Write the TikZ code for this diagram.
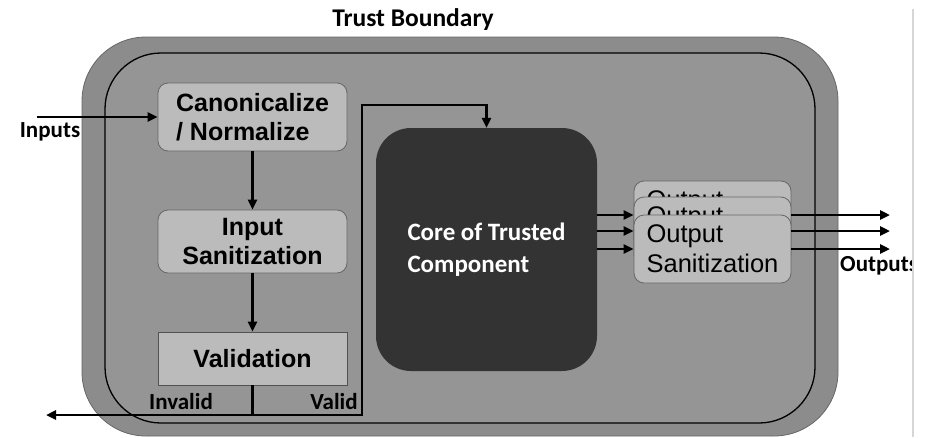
\documentclass[tikz,border=0pt]{standalone}
\usepackage{fontspec}
\setmainfont{Liberation Sans}
\newfontfamily\calfont{Carlito}
\usetikzlibrary{arrows.meta}
\definecolor{bandg}{HTML}{8C8C8C}
\definecolor{innerg}{HTML}{959595}
\definecolor{boxg}{HTML}{BBBBBB}
\definecolor{coreg}{HTML}{333333}
\definecolor{edgeg}{HTML}{666666}
\definecolor{sideg}{HTML}{D6D6D6}
\begin{document}
\begin{tikzpicture}[x=1pt,y=-1pt,
  lbl/.style={font=\calfont\bfseries\fontsize{23}{26}\selectfont, inner sep=0pt},
  procbox/.style={draw=edgeg, line width=0.8pt, fill=boxg, rounded corners=10pt,
     minimum width=189pt, minimum height=68pt, inner sep=0pt,
     font=\bfseries\fontsize{25}{29}\selectfont},
  outbox/.style={draw=edgeg, line width=0.8pt, fill=boxg, rounded corners=10pt,
     minimum width=157pt, minimum height=68pt, inner sep=0pt, align=left,
     font=\fontsize{25.5}{30}\selectfont},
  arr/.style={line width=2.6pt, -{Triangle[length=10pt,width=9pt]}},
  conn/.style={line width=2.6pt}
]
\useasboundingbox (0,0) rectangle (930,437);
% trust boundary
\draw[fill=bandg, draw=edgeg, line width=0.8pt, rounded corners=64pt] (82,37) rectangle (838,436);
\draw[fill=innerg, draw=black, line width=1.3pt, rounded corners=56pt] (105,53) rectangle (815,423);
\node[lbl, font=\calfont\bfseries\fontsize{25.5}{28}\selectfont] (tb) at (413,20) {Trust Boundary};

% left column
\node[procbox, align=left] (canon) at (252.5,117) {Canonicalize\\/ Normalize};
\node[procbox, align=center, minimum height=63pt] (san) at (252.5,241.5) {Input\\Sanitization};
\node[procbox, align=center, rounded corners=0pt, minimum height=53pt, draw=edgeg!80!black] (val) at (252.5,358.5) {Validation};

% core
\node[fill=coreg, rounded corners=35pt, minimum width=221pt, minimum height=243pt, inner sep=0pt,
      align=left, text=white, font=\calfont\bfseries\fontsize{25}{32}\selectfont] (core) at (486.5,249.5)
      {Core of Trusted\\Component};

% labels
\node[lbl] (inputs) at (50,132) {Inputs};
\node[lbl] (invalid) at (181,402) {Invalid};
\node[lbl] (valid) at (334,402) {Valid};
\begin{scope}
\clip (0,0) rectangle (912,437);
\node[lbl, anchor=west] (outputs) at (840,266) {Outputs};
\end{scope}

% connectors
\coordinate (instart) at (37,117);
\draw[arr] (instart) -- (canon.west);
\draw[arr] (canon.south) -- (san.north);
\draw[arr] (san.south) -- (val.north);
\coordinate (j) at (252.5,415);
\coordinate (vb) at (362,105);
\coordinate (invend) at (46,415);
\draw[conn] (val.south) -- (j);
\draw[arr] (j) -- (invend);
\draw[arr, rounded corners=0pt] (j) -| (vb) -| (core.north);

% output boxes (stacked)
\node[outbox] (o1) at (712.5,215) {Output\\\phantom{Sanitization}};
\node[outbox] (o2) at (712.5,231) {Output\\\phantom{Sanitization}};
\node[outbox] (o3) at (712.5,249) {Output\\Sanitization};
\draw[arr] (o1.west -| core.east) -- (o1.west);
\draw[arr] (o2.west -| core.east) -- (o2.west);
\draw[arr] (o3.west -| core.east) -- (o3.west);
\coordinate (e1) at (890,215);
\coordinate (e2) at (890,231);
\coordinate (e3) at (890,249);
\draw[arr] (o1.east) -- (e1);
\draw[arr] (o2.east) -- (e2);
\draw[arr] (o3.east) -- (e3);

% right edge line
\coordinate (st) at (913,9);
\coordinate (sb) at (913,437);
\draw[sideg, line width=2pt] (st) -- (sb);
\end{tikzpicture}
\end{document}
